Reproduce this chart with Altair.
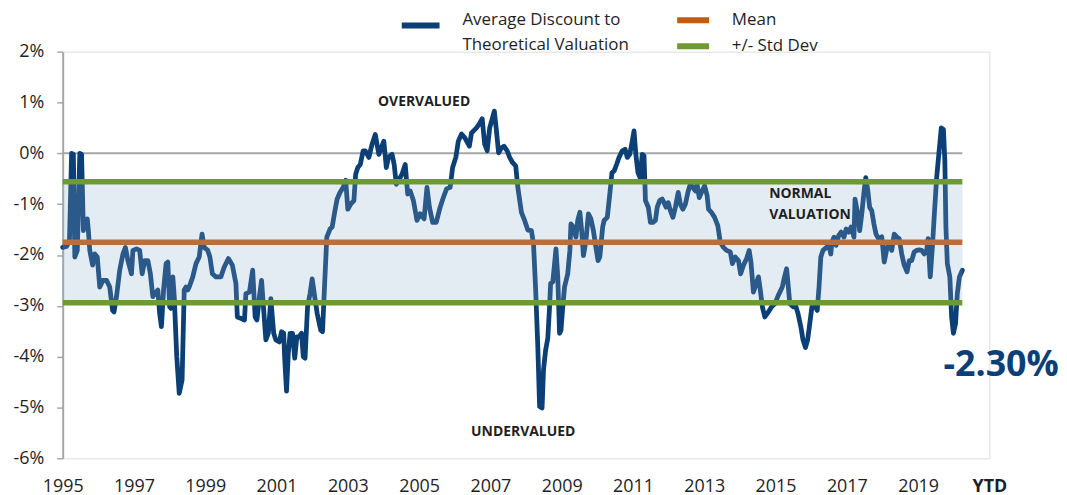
import altair as alt
import pandas as pd

# ---------------- data ----------------
years_1995_1999 = [
    1995.00, 1995.11, 1995.19, 1995.25, 1995.30, 1995.34, 1995.41, 1995.48, 1995.53, 1995.58,
    1995.62, 1995.69, 1995.72, 1995.76, 1995.84, 1995.90, 1995.97, 1996.04, 1996.13, 1996.23,
    1996.32, 1996.40, 1996.44, 1996.51, 1996.60, 1996.69, 1996.76, 1996.83, 1996.93, 1996.97,
    1997.07, 1997.16, 1997.23, 1997.30, 1997.39, 1997.46, 1997.53, 1997.62, 1997.67, 1997.72,
    1997.77, 1997.83, 1997.90, 1997.95, 1998.00, 1998.04, 1998.09, 1998.13, 1998.20, 1998.27,
    1998.35, 1998.41, 1998.46, 1998.51, 1998.55, 1998.65, 1998.74, 1998.83, 1998.91, 1998.97,
    1999.07, 1999.13, 1999.20, 1999.30, 1999.44, 1999.53, 1999.65, 1999.76, 1999.86, 1999.90,
]
discount_1995_1999 = [
    -1.85, -1.83, -1.72, 0.00, -0.02, -2.04, -1.91, 0.00, -0.02, -1.52,
    -1.32, -1.29, -1.52, -1.91, -2.20, -1.98, -2.04, -2.63, -2.50, -2.50,
    -2.63, -3.09, -3.12, -2.82, -2.30, -1.98, -1.85, -2.11, -2.37, -1.91,
    -1.88, -1.91, -2.37, -2.11, -2.11, -2.37, -2.82, -2.73, -2.69, -3.15,
    -3.41, -2.69, -2.17, -2.14, -3.02, -3.05, -2.43, -2.82, -4.00, -4.72,
    -4.46, -2.69, -2.63, -2.69, -2.63, -2.43, -2.17, -2.04, -1.59, -1.85,
    -1.91, -2.04, -2.37, -2.43, -2.43, -2.24, -2.07, -2.20, -2.56, -3.22,
]

years_2000_2002 = [
    2000.01, 2000.10, 2000.14, 2000.24, 2000.33, 2000.40, 2000.45, 2000.52, 2000.58, 2000.64,
    2000.70, 2000.77, 2000.84, 2000.92, 2000.98, 2001.08, 2001.14, 2001.20, 2001.23, 2001.28,
    2001.33, 2001.38, 2001.45, 2001.51, 2001.57, 2001.63, 2001.70, 2001.75, 2001.80, 2001.87,
    2001.94, 2002.00, 2002.07, 2002.14, 2002.24, 2002.29, 2002.35, 2002.41, 2002.50, 2002.56,
    2002.63, 2002.70, 2002.78, 2002.87, 2002.94, 2003.00,
]
discount_2000_2002 = [
    -3.25, -3.28, -2.76, -2.73, -2.30, -3.22, -3.28, -2.82, -2.50, -3.09,
    -3.67, -3.54, -2.86, -3.54, -3.67, -3.71, -3.51, -3.54, -4.06, -4.68,
    -3.93, -3.54, -3.54, -4.03, -3.61, -3.61, -3.54, -4.00, -4.03, -3.02,
    -2.76, -2.47, -2.82, -3.15, -3.48, -3.51, -2.56, -1.65, -1.49, -1.45,
    -1.16, -0.90, -0.77, -0.67, -0.53, -1.10,
]

years_2003_2008 = [
    2003.08, 2003.17, 2003.22, 2003.28, 2003.35, 2003.43, 2003.49, 2003.59, 2003.68, 2003.77,
    2003.87, 2003.91, 2004.01, 2004.08, 2004.14, 2004.24, 2004.30, 2004.36, 2004.42, 2004.52,
    2004.61, 2004.68, 2004.75, 2004.84, 2004.94, 2005.03, 2005.14, 2005.22, 2005.29, 2005.38,
    2005.48, 2005.59, 2005.68, 2005.77, 2005.87, 2005.94, 2006.03, 2006.10, 2006.19, 2006.28,
    2006.41, 2006.47, 2006.54, 2006.61, 2006.68, 2006.77, 2006.84, 2006.91, 2006.98, 2007.06,
    2007.11, 2007.17, 2007.23, 2007.31, 2007.38, 2007.47, 2007.54, 2007.62, 2007.71, 2007.77,
    2007.87, 2007.96, 2008.05, 2008.15,
]
discount_2003_2008 = [
    -1.00, -0.93, -0.41, -0.28, -0.22, 0.05, 0.05, -0.08, 0.18, 0.37,
    -0.02, 0.05, 0.24, -0.28, -0.08, -0.02, -0.22, -0.61, -0.54, -0.41,
    -0.22, -0.80, -0.74, -0.93, -1.32, -1.19, -1.29, -0.67, -1.06, -1.36,
    -1.36, -1.06, -0.87, -0.70, -0.67, -0.28, -0.08, 0.24, 0.38, 0.31,
    0.14, 0.40, 0.45, 0.50, 0.57, 0.68, 0.18, 0.05, 0.50, 0.70,
    0.83, 0.44, 0.01, 0.11, 0.14, 0.05, -0.08, -0.18, -0.25, -0.67,
    -1.16, -1.32, -1.51, -1.52,
]

years_2008_2010 = [
    2008.21, 2008.27, 2008.33, 2008.38, 2008.45, 2008.49, 2008.55, 2008.61, 2008.66, 2008.69,
    2008.75, 2008.80, 2008.84, 2008.89, 2008.94, 2008.98, 2009.03, 2009.08, 2009.17, 2009.23,
    2009.26, 2009.33, 2009.40, 2009.45, 2009.51, 2009.56, 2009.61, 2009.68, 2009.75, 2009.82,
    2009.89, 2009.96, 2010.02,
]
discount_2008_2010 = [
    -1.78, -2.69, -3.80, -4.98, -5.01, -4.26, -3.87, -3.64, -3.02, -2.56,
    -2.53, -2.17, -1.88, -2.43, -3.54, -3.48, -3.02, -2.63, -2.37, -1.91,
    -1.39, -1.45, -1.65, -1.32, -1.16, -1.52, -2.01, -1.72, -1.19, -1.29,
    -1.52, -1.85, -2.11,
]

years_2010_2015 = [
    2010.07, 2010.15, 2010.19, 2010.28, 2010.35, 2010.41, 2010.47, 2010.54, 2010.61, 2010.70,
    2010.78, 2010.84, 2010.91, 2010.98, 2011.03, 2011.08, 2011.14, 2011.20, 2011.26, 2011.31,
    2011.35, 2011.43, 2011.49, 2011.56, 2011.63, 2011.68, 2011.75, 2011.82, 2011.87, 2011.93,
    2011.99, 2012.05, 2012.12, 2012.19, 2012.27, 2012.33, 2012.40, 2012.47, 2012.55, 2012.61,
    2012.68, 2012.75, 2012.80, 2012.86, 2012.94, 2013.01, 2013.08, 2013.12, 2013.20, 2013.29,
    2013.38, 2013.45, 2013.54, 2013.63, 2013.73, 2013.79, 2013.87, 2013.96, 2014.02, 2014.10,
    2014.19, 2014.26, 2014.31, 2014.38, 2014.44, 2014.52, 2014.58, 2014.63, 2014.70, 2014.80,
    2014.89, 2014.98, 2015.08,
]
discount_2010_2015 = [
    -2.04, -1.45, -1.32, -1.26, -0.80, -0.38, -0.35, -0.22, -0.08, 0.05,
    0.08, -0.08, -0.02, 0.24, 0.44, -0.02, -0.38, -0.48, -0.02, -0.05,
    -0.93, -1.06, -1.36, -1.36, -1.32, -1.06, -0.93, -0.90, -0.97, -1.06,
    -0.97, -1.13, -1.26, -1.06, -0.77, -1.00, -1.10, -1.00, -0.74, -0.61,
    -0.67, -0.74, -0.61, -0.87, -0.74, -0.64, -0.83, -1.10, -1.16, -1.26,
    -1.42, -1.75, -1.85, -1.91, -1.94, -2.17, -2.04, -2.11, -2.37, -2.20,
    -2.07, -1.91, -2.14, -2.73, -2.60, -2.43, -2.73, -3.02, -3.22, -3.12,
    -3.02, -2.96, -2.79,
]

years_2015_2020 = [
    2015.19, 2015.24, 2015.31, 2015.35, 2015.40, 2015.50, 2015.56, 2015.63, 2015.71, 2015.77,
    2015.84, 2015.90, 2015.96, 2016.02, 2016.10, 2016.17, 2016.22, 2016.27, 2016.33, 2016.43,
    2016.49, 2016.55, 2016.58, 2016.64, 2016.70, 2016.77, 2016.84, 2016.92, 2016.98, 2017.05,
    2017.12, 2017.20, 2017.23, 2017.29, 2017.36, 2017.42, 2017.48, 2017.53, 2017.59, 2017.64,
    2017.70, 2017.76, 2017.82, 2017.89, 2017.98, 2018.05, 2018.13, 2018.19, 2018.26, 2018.33,
    2018.41, 2018.47, 2018.54, 2018.61, 2018.69, 2018.75, 2018.82, 2018.89, 2018.96, 2019.03,
    2019.10, 2019.17, 2019.24, 2019.28, 2019.34, 2019.40, 2019.45, 2019.52, 2019.59, 2019.65,
    2019.71, 2019.75, 2019.78, 2019.82, 2019.89, 2019.94, 2019.99, 2020.05, 2020.10, 2020.16,
    2020.24,
]
discount_2015_2020 = [
    -2.63, -2.47, -2.27, -2.56, -2.96, -3.02, -2.99, -3.15, -3.41, -3.67,
    -3.82, -3.67, -3.35, -3.02, -2.99, -3.09, -2.63, -2.04, -1.91, -1.85,
    -1.78, -1.98, -1.75, -1.65, -1.81, -1.62, -1.55, -1.65, -1.49, -1.55,
    -1.45, -1.65, -0.90, -1.13, -1.52, -1.19, -0.77, -0.48, -0.74, -1.06,
    -1.13, -1.39, -1.59, -1.68, -1.64, -2.14, -1.85, -1.78, -1.91, -1.59,
    -1.65, -1.68, -1.98, -2.20, -2.33, -2.11, -2.11, -1.94, -1.91, -1.90,
    -1.91, -1.98, -1.91, -1.68, -2.43, -1.85, -1.26, -0.48, 0.05, 0.50,
    0.47, -0.15, -1.45, -2.17, -2.43, -3.22, -3.54, -3.35, -2.76, -2.43,
    -2.30,
]

mean_value = -1.75
std_upper = -0.56
std_lower = -2.94

series_name = "Average Discount to Theoretical Valuation"
mean_name = "Mean"
std_name = "+/- Std Dev"

x_ticks = [1995, 1997, 1999, 2001, 2003, 2005, 2007, 2009, 2011, 2013, 2015, 2017, 2019, 2021]
ytd_tick = 2021
y_ticks = [-6, -5, -4, -3, -2, -1, 0, 1, 2]

center_notes = ["OVERVALUED", "UNDERVALUED"]
center_note_x = [2005.14, 2007.92]
center_note_y = [1.00, -5.49]
left_notes = ["NORMAL", "VALUATION"]
left_note_x = [2014.82, 2014.82]
left_note_y = [-0.80, -1.21]
latest_note_x = [2021.33]
latest_note_y = [-4.16]

# ---------------- styling ----------------
BLUE = "#0B3F76"
ORANGE = "#C55A11"
GREEN = "#6E9A34"
BAND = "#8EAFCB"
GRAY = "#A6A6A6"
TEXT = "#1F1F1F"
FONT = "Open Sans"

years = (years_1995_1999 + years_2000_2002 + years_2003_2008 + years_2008_2010
         + years_2010_2015 + years_2015_2020)
discount = (discount_1995_1999 + discount_2000_2002 + discount_2003_2008 + discount_2008_2010
            + discount_2010_2015 + discount_2015_2020)
start, end = years[0], years[-1]

line_df = pd.DataFrame({"year": years, "value": discount, "series": series_name})
mean_df = pd.DataFrame({"year": [start], "year2": [end], "value": [mean_value], "guide": [mean_name]})
std_df = pd.DataFrame({"year": [start, start], "year2": [end, end],
                       "value": [std_upper, std_lower], "guide": [std_name, std_name]})
band_df = pd.DataFrame({"year": [start], "year2": [end], "value": [std_upper], "value2": [std_lower]})
zero_df = pd.DataFrame({"year": [start], "year2": [end], "value": [0.0]})
center_df = pd.DataFrame({"label": center_notes, "year": center_note_x, "value": center_note_y})
left_df = pd.DataFrame({"label": left_notes, "year": left_note_x, "value": left_note_y})
latest_df = pd.DataFrame({"label": [f"{discount[-1]:.2f}%"], "year": latest_note_x, "value": latest_note_y})

x_axis = alt.Axis(
    values=x_ticks, format="d",
    labelExpr=f"datum.value == {ytd_tick} ? 'YTD' : datum.label",
    labelFontWeight={"condition": {"test": f"datum.value == {ytd_tick}", "value": "bold"}, "value": "normal"},
    title=None, grid=False, domain=False, ticks=False, labelFlush=False,
    labelPadding=19, labelFont=FONT, labelFontSize=18, labelColor=TEXT,
)
y_axis = alt.Axis(
    values=y_ticks, labelExpr="datum.value + '%'", title=None, grid=False,
    domainColor=GRAY, domainWidth=2, tickColor=GRAY, tickWidth=1.5, tickSize=6,
    labelPadding=13, labelFont=FONT, labelFontSize=18, labelColor=TEXT,
)
x_scale = alt.Scale(domain=[x_ticks[0], x_ticks[-1]], nice=False, zero=False)
y_scale = alt.Scale(domain=[y_ticks[0], y_ticks[-1]], nice=False, zero=False)


def X():
    return alt.X("year:Q", scale=x_scale, axis=x_axis)


def Y():
    return alt.Y("value:Q", scale=y_scale, axis=y_axis)


stroke_scale = alt.Scale(domain=[mean_name, std_name], range=[ORANGE, GREEN])
stroke_legend = alt.Legend(
    title=None, orient="none", legendX=622, legendY=-43.5, padding=0,
    symbolType="M-1.78,0L1.78,0", symbolSize=324, symbolStrokeWidth=6,
    labelFont=FONT, labelFontSize=17, labelColor=TEXT, labelOffset=27,
    labelBaseline="middle", rowPadding=2, labelLimit=300,
)

zero_rule = alt.Chart(zero_df).mark_rule(color=GRAY, strokeWidth=2).encode(
    x=X(), x2="year2:Q", y=Y())

line = alt.Chart(line_df).mark_line(strokeWidth=4.8, strokeJoin="round", strokeCap="round").encode(
    x=X(), y=Y(),
    color=alt.Color("series:N", scale=alt.Scale(domain=[series_name], range=[BLUE]),
                    legend=alt.Legend(
                        title=None, orient="none", legendX=348, legendY=-38.6, padding=0,
                        symbolType="M-2.11,0.04L2.11,0.04", symbolSize=324, symbolStrokeWidth=6,
                        labelFont=FONT, labelFontSize=17, labelColor=TEXT, labelOffset=30,
                        labelBaseline="alphabetic", labelLimit=400,
                        labelExpr="[slice(datum.label, 0, 19), slice(datum.label, 20)]",
                    )),
)

mean_rule = alt.Chart(mean_df).mark_rule(strokeWidth=5.5).encode(
    x=X(), x2="year2:Q", y=Y(),
    stroke=alt.Stroke("guide:N", scale=stroke_scale, legend=stroke_legend))

band = alt.Chart(band_df).mark_rect(color=BAND, opacity=0.24).encode(
    x=X(), x2="year2:Q", y=Y(), y2="value2:Q")

std_rules = alt.Chart(std_df).mark_rule(strokeWidth=5.5).encode(
    x=X(), x2="year2:Q", y=Y(),
    stroke=alt.Stroke("guide:N", scale=stroke_scale, legend=stroke_legend))

center_text = alt.Chart(center_df).mark_text(
    font=FONT, fontSize=14, fontWeight="bold", color=TEXT, align="center", baseline="middle"
).encode(x=X(), y=Y(), text="label:N")

left_text = alt.Chart(left_df).mark_text(
    font=FONT, fontSize=14, fontWeight="bold", color=TEXT, align="left", baseline="middle"
).encode(x=X(), y=Y(), text="label:N")

latest_text = alt.Chart(latest_df).mark_text(
    font=FONT, fontSize=36, fontWeight="bold", color=BLUE, align="center", baseline="middle"
).encode(x=X(), y=Y(), text="label:N")

chart = alt.layer(
    zero_rule, line, mean_rule, band, std_rules, center_text, left_text, latest_text
).properties(
    width=932, height=409,
    padding={"left": 5, "top": -1.5, "right": 0, "bottom": 0},
).configure_view(stroke=None).configure(
    font=FONT, style={"guide-label": {"lineHeight": 25}}
)

chart.save("out.html", embed_options={"renderer": "svg", "actions": False})
